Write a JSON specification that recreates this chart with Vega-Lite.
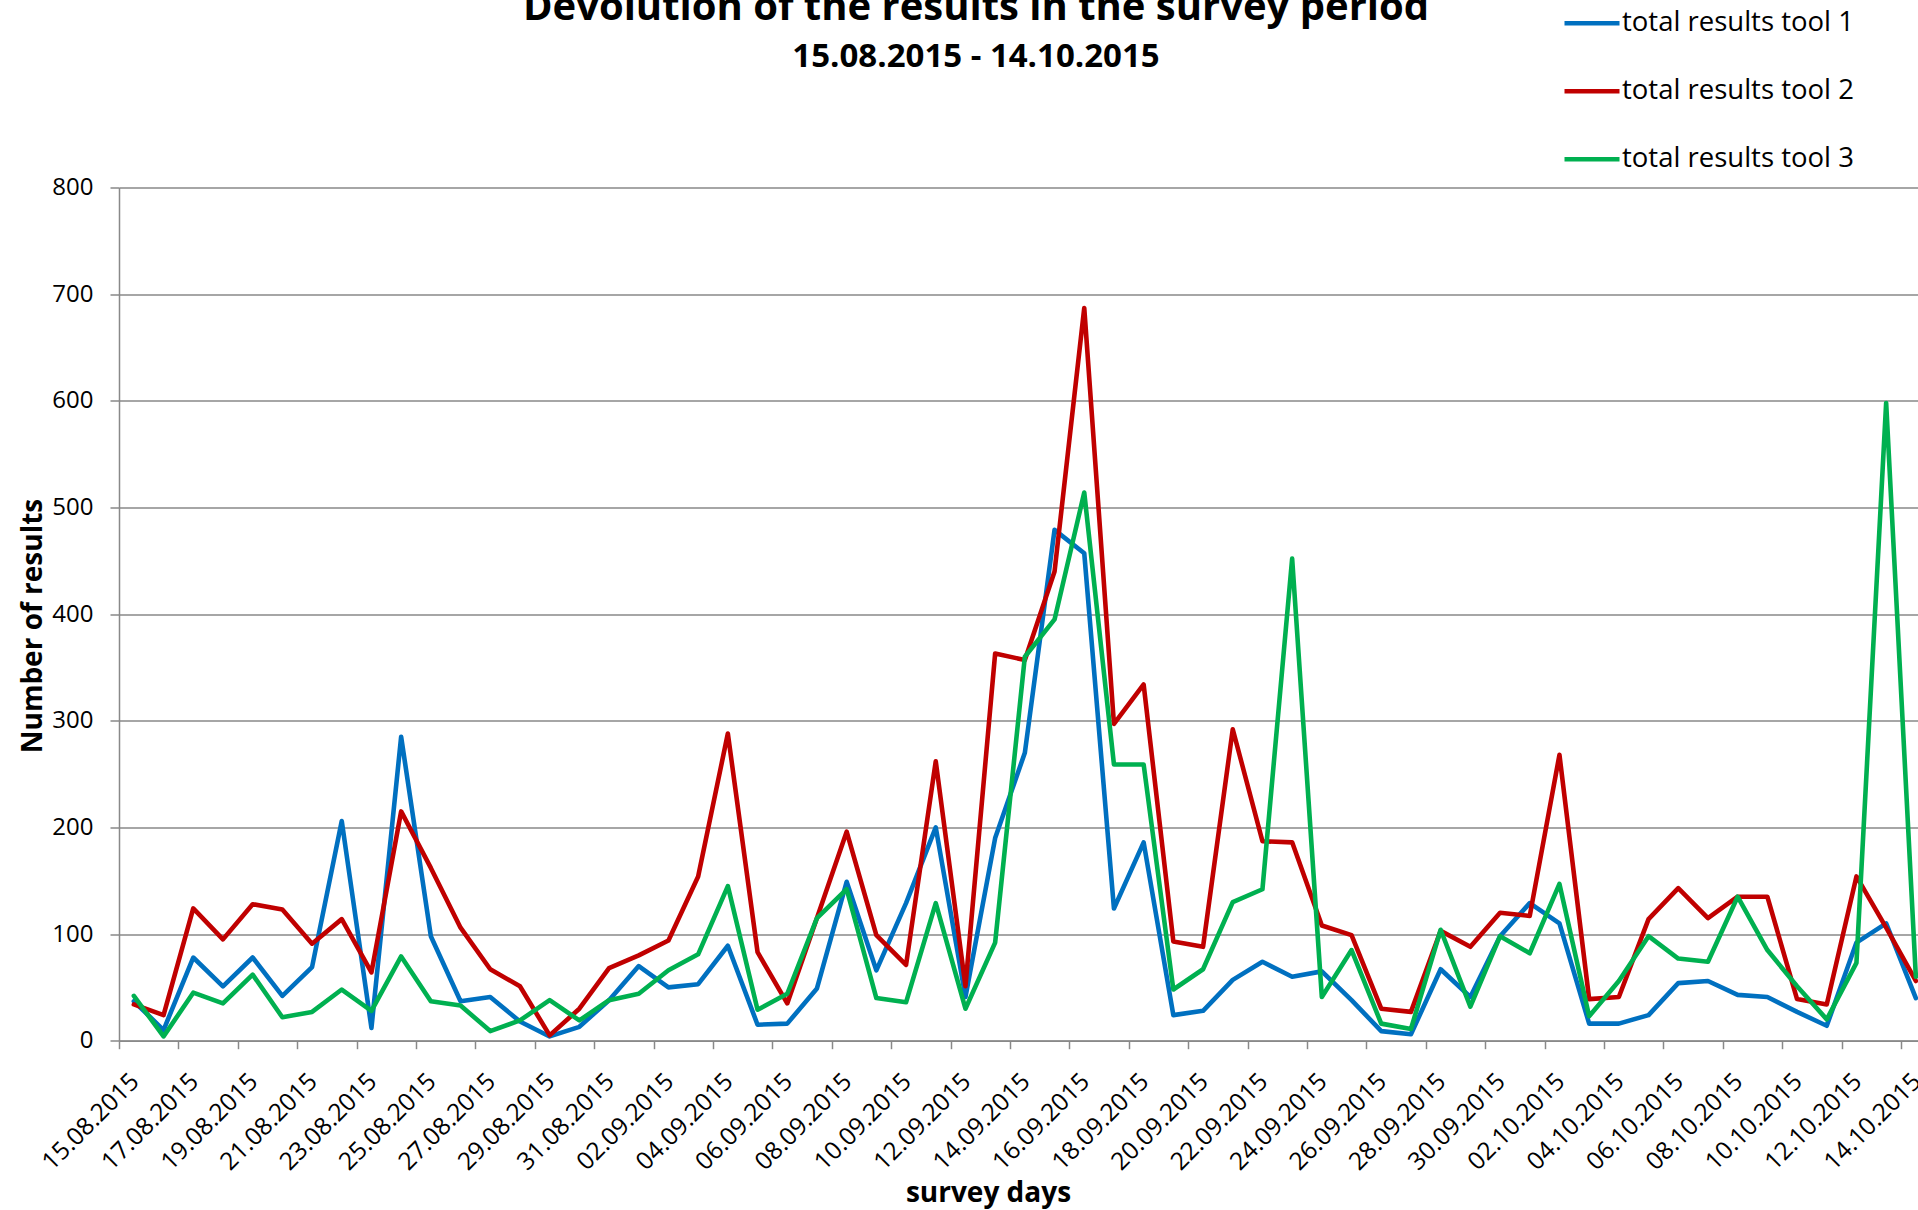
{
  "$schema": "https://vega.github.io/schema/vega-lite/v6.json",
  "width": 1799,
  "height": 853.2,
  "autosize": {"type": "none"},
  "padding": {"left": 119, "top": 187.5, "right": 0, "bottom": 169.3},
  "background": "white",
  "title": {
    "text": "Devolution of the results in the survey period",
    "subtitle": "15.08.2015 - 14.10.2015",
    "anchor": "middle",
    "frame": "group",
    "font": "Open Sans",
    "fontSize": 40,
    "fontWeight": "bold",
    "color": "black",
    "subtitleFont": "Open Sans",
    "subtitleFontSize": 33,
    "subtitleFontWeight": "bold",
    "subtitleColor": "black",
    "subtitlePadding": 13,
    "offset": -80.7,
    "dx": -42.5
  },
  "data": {
    "values": [
      {"day": "15.08.2015", "series": "total results tool 1", "results": 37},
      {"day": "16.08.2015", "series": "total results tool 1", "results": 10},
      {"day": "17.08.2015", "series": "total results tool 1", "results": 78},
      {"day": "18.08.2015", "series": "total results tool 1", "results": 51},
      {"day": "19.08.2015", "series": "total results tool 1", "results": 78},
      {"day": "20.08.2015", "series": "total results tool 1", "results": 42},
      {"day": "21.08.2015", "series": "total results tool 1", "results": 69},
      {"day": "22.08.2015", "series": "total results tool 1", "results": 206},
      {"day": "23.08.2015", "series": "total results tool 1", "results": 12},
      {"day": "24.08.2015", "series": "total results tool 1", "results": 285},
      {"day": "25.08.2015", "series": "total results tool 1", "results": 98},
      {"day": "26.08.2015", "series": "total results tool 1", "results": 37},
      {"day": "27.08.2015", "series": "total results tool 1", "results": 41},
      {"day": "28.08.2015", "series": "total results tool 1", "results": 18},
      {"day": "29.08.2015", "series": "total results tool 1", "results": 4},
      {"day": "30.08.2015", "series": "total results tool 1", "results": 13},
      {"day": "31.08.2015", "series": "total results tool 1", "results": 38},
      {"day": "01.09.2015", "series": "total results tool 1", "results": 70},
      {"day": "02.09.2015", "series": "total results tool 1", "results": 50},
      {"day": "03.09.2015", "series": "total results tool 1", "results": 53},
      {"day": "04.09.2015", "series": "total results tool 1", "results": 89},
      {"day": "05.09.2015", "series": "total results tool 1", "results": 15},
      {"day": "06.09.2015", "series": "total results tool 1", "results": 16},
      {"day": "07.09.2015", "series": "total results tool 1", "results": 49},
      {"day": "08.09.2015", "series": "total results tool 1", "results": 149},
      {"day": "09.09.2015", "series": "total results tool 1", "results": 66},
      {"day": "10.09.2015", "series": "total results tool 1", "results": 129},
      {"day": "11.09.2015", "series": "total results tool 1", "results": 200},
      {"day": "12.09.2015", "series": "total results tool 1", "results": 41},
      {"day": "13.09.2015", "series": "total results tool 1", "results": 190},
      {"day": "14.09.2015", "series": "total results tool 1", "results": 270},
      {"day": "15.09.2015", "series": "total results tool 1", "results": 479},
      {"day": "16.09.2015", "series": "total results tool 1", "results": 457},
      {"day": "17.09.2015", "series": "total results tool 1", "results": 124},
      {"day": "18.09.2015", "series": "total results tool 1", "results": 186},
      {"day": "19.09.2015", "series": "total results tool 1", "results": 24},
      {"day": "20.09.2015", "series": "total results tool 1", "results": 28},
      {"day": "21.09.2015", "series": "total results tool 1", "results": 57},
      {"day": "22.09.2015", "series": "total results tool 1", "results": 74},
      {"day": "23.09.2015", "series": "total results tool 1", "results": 60},
      {"day": "24.09.2015", "series": "total results tool 1", "results": 65},
      {"day": "25.09.2015", "series": "total results tool 1", "results": 38},
      {"day": "26.09.2015", "series": "total results tool 1", "results": 9},
      {"day": "27.09.2015", "series": "total results tool 1", "results": 6},
      {"day": "28.09.2015", "series": "total results tool 1", "results": 67},
      {"day": "29.09.2015", "series": "total results tool 1", "results": 41},
      {"day": "30.09.2015", "series": "total results tool 1", "results": 98},
      {"day": "01.10.2015", "series": "total results tool 1", "results": 129},
      {"day": "02.10.2015", "series": "total results tool 1", "results": 110},
      {"day": "03.10.2015", "series": "total results tool 1", "results": 16},
      {"day": "04.10.2015", "series": "total results tool 1", "results": 16},
      {"day": "05.10.2015", "series": "total results tool 1", "results": 24},
      {"day": "06.10.2015", "series": "total results tool 1", "results": 54},
      {"day": "07.10.2015", "series": "total results tool 1", "results": 56},
      {"day": "08.10.2015", "series": "total results tool 1", "results": 43},
      {"day": "09.10.2015", "series": "total results tool 1", "results": 41},
      {"day": "10.10.2015", "series": "total results tool 1", "results": 27},
      {"day": "11.10.2015", "series": "total results tool 1", "results": 14},
      {"day": "12.10.2015", "series": "total results tool 1", "results": 92},
      {"day": "13.10.2015", "series": "total results tool 1", "results": 110},
      {"day": "14.10.2015", "series": "total results tool 1", "results": 40},
      {"day": "15.08.2015", "series": "total results tool 2", "results": 34},
      {"day": "16.08.2015", "series": "total results tool 2", "results": 24},
      {"day": "17.08.2015", "series": "total results tool 2", "results": 124},
      {"day": "18.08.2015", "series": "total results tool 2", "results": 95},
      {"day": "19.08.2015", "series": "total results tool 2", "results": 128},
      {"day": "20.08.2015", "series": "total results tool 2", "results": 123},
      {"day": "21.08.2015", "series": "total results tool 2", "results": 91},
      {"day": "22.08.2015", "series": "total results tool 2", "results": 114},
      {"day": "23.08.2015", "series": "total results tool 2", "results": 64},
      {"day": "24.08.2015", "series": "total results tool 2", "results": 215},
      {"day": "25.08.2015", "series": "total results tool 2", "results": 162},
      {"day": "26.08.2015", "series": "total results tool 2", "results": 106},
      {"day": "27.08.2015", "series": "total results tool 2", "results": 67},
      {"day": "28.08.2015", "series": "total results tool 2", "results": 51},
      {"day": "29.08.2015", "series": "total results tool 2", "results": 5},
      {"day": "30.08.2015", "series": "total results tool 2", "results": 30},
      {"day": "31.08.2015", "series": "total results tool 2", "results": 68},
      {"day": "01.09.2015", "series": "total results tool 2", "results": 80},
      {"day": "02.09.2015", "series": "total results tool 2", "results": 94},
      {"day": "03.09.2015", "series": "total results tool 2", "results": 154},
      {"day": "04.09.2015", "series": "total results tool 2", "results": 288},
      {"day": "05.09.2015", "series": "total results tool 2", "results": 83},
      {"day": "06.09.2015", "series": "total results tool 2", "results": 35},
      {"day": "07.09.2015", "series": "total results tool 2", "results": 115},
      {"day": "08.09.2015", "series": "total results tool 2", "results": 196},
      {"day": "09.09.2015", "series": "total results tool 2", "results": 99},
      {"day": "10.09.2015", "series": "total results tool 2", "results": 71},
      {"day": "11.09.2015", "series": "total results tool 2", "results": 262},
      {"day": "12.09.2015", "series": "total results tool 2", "results": 51},
      {"day": "13.09.2015", "series": "total results tool 2", "results": 363},
      {"day": "14.09.2015", "series": "total results tool 2", "results": 357},
      {"day": "15.09.2015", "series": "total results tool 2", "results": 440},
      {"day": "16.09.2015", "series": "total results tool 2", "results": 687},
      {"day": "17.09.2015", "series": "total results tool 2", "results": 297},
      {"day": "18.09.2015", "series": "total results tool 2", "results": 334},
      {"day": "19.09.2015", "series": "total results tool 2", "results": 93},
      {"day": "20.09.2015", "series": "total results tool 2", "results": 88},
      {"day": "21.09.2015", "series": "total results tool 2", "results": 292},
      {"day": "22.09.2015", "series": "total results tool 2", "results": 187},
      {"day": "23.09.2015", "series": "total results tool 2", "results": 186},
      {"day": "24.09.2015", "series": "total results tool 2", "results": 108},
      {"day": "25.09.2015", "series": "total results tool 2", "results": 99},
      {"day": "26.09.2015", "series": "total results tool 2", "results": 30},
      {"day": "27.09.2015", "series": "total results tool 2", "results": 27},
      {"day": "28.09.2015", "series": "total results tool 2", "results": 103},
      {"day": "29.09.2015", "series": "total results tool 2", "results": 88},
      {"day": "30.09.2015", "series": "total results tool 2", "results": 120},
      {"day": "01.10.2015", "series": "total results tool 2", "results": 117},
      {"day": "02.10.2015", "series": "total results tool 2", "results": 268},
      {"day": "03.10.2015", "series": "total results tool 2", "results": 39},
      {"day": "04.10.2015", "series": "total results tool 2", "results": 41},
      {"day": "05.10.2015", "series": "total results tool 2", "results": 114},
      {"day": "06.10.2015", "series": "total results tool 2", "results": 143},
      {"day": "07.10.2015", "series": "total results tool 2", "results": 115},
      {"day": "08.10.2015", "series": "total results tool 2", "results": 135},
      {"day": "09.10.2015", "series": "total results tool 2", "results": 135},
      {"day": "10.10.2015", "series": "total results tool 2", "results": 39},
      {"day": "11.10.2015", "series": "total results tool 2", "results": 34},
      {"day": "12.10.2015", "series": "total results tool 2", "results": 154},
      {"day": "13.10.2015", "series": "total results tool 2", "results": 106},
      {"day": "14.10.2015", "series": "total results tool 2", "results": 56},
      {"day": "15.08.2015", "series": "total results tool 3", "results": 42},
      {"day": "16.08.2015", "series": "total results tool 3", "results": 4},
      {"day": "17.08.2015", "series": "total results tool 3", "results": 45},
      {"day": "18.08.2015", "series": "total results tool 3", "results": 35},
      {"day": "19.08.2015", "series": "total results tool 3", "results": 62},
      {"day": "20.08.2015", "series": "total results tool 3", "results": 22},
      {"day": "21.08.2015", "series": "total results tool 3", "results": 27},
      {"day": "22.08.2015", "series": "total results tool 3", "results": 48},
      {"day": "23.08.2015", "series": "total results tool 3", "results": 28},
      {"day": "24.08.2015", "series": "total results tool 3", "results": 79},
      {"day": "25.08.2015", "series": "total results tool 3", "results": 37},
      {"day": "26.08.2015", "series": "total results tool 3", "results": 33},
      {"day": "27.08.2015", "series": "total results tool 3", "results": 9},
      {"day": "28.08.2015", "series": "total results tool 3", "results": 19},
      {"day": "29.08.2015", "series": "total results tool 3", "results": 38},
      {"day": "30.08.2015", "series": "total results tool 3", "results": 19},
      {"day": "31.08.2015", "series": "total results tool 3", "results": 38},
      {"day": "01.09.2015", "series": "total results tool 3", "results": 44},
      {"day": "02.09.2015", "series": "total results tool 3", "results": 66},
      {"day": "03.09.2015", "series": "total results tool 3", "results": 81},
      {"day": "04.09.2015", "series": "total results tool 3", "results": 145},
      {"day": "05.09.2015", "series": "total results tool 3", "results": 29},
      {"day": "06.09.2015", "series": "total results tool 3", "results": 44},
      {"day": "07.09.2015", "series": "total results tool 3", "results": 115},
      {"day": "08.09.2015", "series": "total results tool 3", "results": 142},
      {"day": "09.09.2015", "series": "total results tool 3", "results": 40},
      {"day": "10.09.2015", "series": "total results tool 3", "results": 36},
      {"day": "11.09.2015", "series": "total results tool 3", "results": 129},
      {"day": "12.09.2015", "series": "total results tool 3", "results": 30},
      {"day": "13.09.2015", "series": "total results tool 3", "results": 92},
      {"day": "14.09.2015", "series": "total results tool 3", "results": 360},
      {"day": "15.09.2015", "series": "total results tool 3", "results": 395},
      {"day": "16.09.2015", "series": "total results tool 3", "results": 514},
      {"day": "17.09.2015", "series": "total results tool 3", "results": 259},
      {"day": "18.09.2015", "series": "total results tool 3", "results": 259},
      {"day": "19.09.2015", "series": "total results tool 3", "results": 48},
      {"day": "20.09.2015", "series": "total results tool 3", "results": 67},
      {"day": "21.09.2015", "series": "total results tool 3", "results": 130},
      {"day": "22.09.2015", "series": "total results tool 3", "results": 142},
      {"day": "23.09.2015", "series": "total results tool 3", "results": 452},
      {"day": "24.09.2015", "series": "total results tool 3", "results": 41},
      {"day": "25.09.2015", "series": "total results tool 3", "results": 85},
      {"day": "26.09.2015", "series": "total results tool 3", "results": 16},
      {"day": "27.09.2015", "series": "total results tool 3", "results": 11},
      {"day": "28.09.2015", "series": "total results tool 3", "results": 104},
      {"day": "29.09.2015", "series": "total results tool 3", "results": 32},
      {"day": "30.09.2015", "series": "total results tool 3", "results": 98},
      {"day": "01.10.2015", "series": "total results tool 3", "results": 82},
      {"day": "02.10.2015", "series": "total results tool 3", "results": 147},
      {"day": "03.10.2015", "series": "total results tool 3", "results": 23},
      {"day": "04.10.2015", "series": "total results tool 3", "results": 56},
      {"day": "05.10.2015", "series": "total results tool 3", "results": 98},
      {"day": "06.10.2015", "series": "total results tool 3", "results": 77},
      {"day": "07.10.2015", "series": "total results tool 3", "results": 74},
      {"day": "08.10.2015", "series": "total results tool 3", "results": 135},
      {"day": "09.10.2015", "series": "total results tool 3", "results": 85},
      {"day": "10.10.2015", "series": "total results tool 3", "results": 51},
      {"day": "11.10.2015", "series": "total results tool 3", "results": 20},
      {"day": "12.10.2015", "series": "total results tool 3", "results": 73},
      {"day": "13.10.2015", "series": "total results tool 3", "results": 598},
      {"day": "14.10.2015", "series": "total results tool 3", "results": 60}
    ]
  },
  "mark": {"type": "line", "strokeWidth": 4.6, "strokeJoin": "round", "strokeCap": "round"},
  "encoding": {
    "x": {
      "field": "day",
      "type": "ordinal",
      "sort": null,
      "scale": {"type": "point", "range": [0, 1811.7], "padding": 0.5},
      "axis": {
        "values": ["15.08.2015", "17.08.2015", "19.08.2015", "21.08.2015", "23.08.2015", "25.08.2015", "27.08.2015", "29.08.2015", "31.08.2015", "02.09.2015", "04.09.2015", "06.09.2015", "08.09.2015", "10.09.2015", "12.09.2015", "14.09.2015", "16.09.2015", "18.09.2015", "20.09.2015", "22.09.2015", "24.09.2015", "26.09.2015", "28.09.2015", "30.09.2015", "02.10.2015", "04.10.2015", "06.10.2015", "08.10.2015", "10.10.2015", "12.10.2015", "14.10.2015"],
        "title": "survey days",
        "titleFont": "Open Sans",
        "titleFontWeight": "bold",
        "titleFontSize": 28,
        "titleColor": "black",
        "titleX": 869,
        "titleY": 161,
        "titleAlign": "center",
        "titleBaseline": "alphabetic",
        "labelFont": "Open Sans",
        "labelAngle": -45,
        "labelAlign": "right",
        "labelBaseline": "middle",
        "labelFontSize": 24.5,
        "labelColor": "black",
        "labelPadding": 29,
        "labelOverlap": false,
        "labelLimit": 400,
        "tickOffset": -14.85,
        "labelOffset": 16,
        "tickSize": 8,
        "tickColor": "#898989",
        "tickWidth": 1.5,
        "domainColor": "#898989",
        "domainWidth": 1.5,
        "grid": false
      }
    },
    "y": {
      "field": "results",
      "type": "quantitative",
      "scale": {"domain": [0, 800], "nice": false, "zero": true},
      "axis": {
        "values": [0, 100, 200, 300, 400, 500, 600, 700, 800],
        "title": "Number of results",
        "titleFont": "Open Sans",
        "titleFontWeight": "bold",
        "titleFontSize": 28,
        "titleColor": "black",
        "titleAngle": -90,
        "titleX": -78,
        "titleY": 438,
        "titleAlign": "center",
        "titleBaseline": "alphabetic",
        "labelFont": "Open Sans",
        "labelFontSize": 24,
        "labelColor": "black",
        "labelPadding": 17,
        "tickSize": 9,
        "tickColor": "#898989",
        "tickWidth": 1.5,
        "domainColor": "#898989",
        "domainWidth": 1.5,
        "grid": true,
        "gridColor": "#898989",
        "gridWidth": 1.5
      }
    },
    "color": {
      "field": "series",
      "type": "nominal",
      "scale": {
        "domain": ["total results tool 1", "total results tool 2", "total results tool 3"],
        "range": ["#0070C0", "#C00000", "#00B050"]
      },
      "legend": {
        "orient": "none",
        "legendX": 1443,
        "legendY": -194.2,
        "title": null,
        "direction": "vertical",
        "symbolType": "stroke",
        "symbolSize": 3025,
        "symbolStrokeWidth": 4.6,
        "labelFont": "Open Sans",
        "labelFontSize": 27.5,
        "labelColor": "black",
        "labelOffset": 0,
        "rowPadding": 24,
        "padding": 0,
        "labelLimit": 400
      }
    }
  },
  "config": {"view": {"stroke": null}, "font": "Open Sans"}
}
